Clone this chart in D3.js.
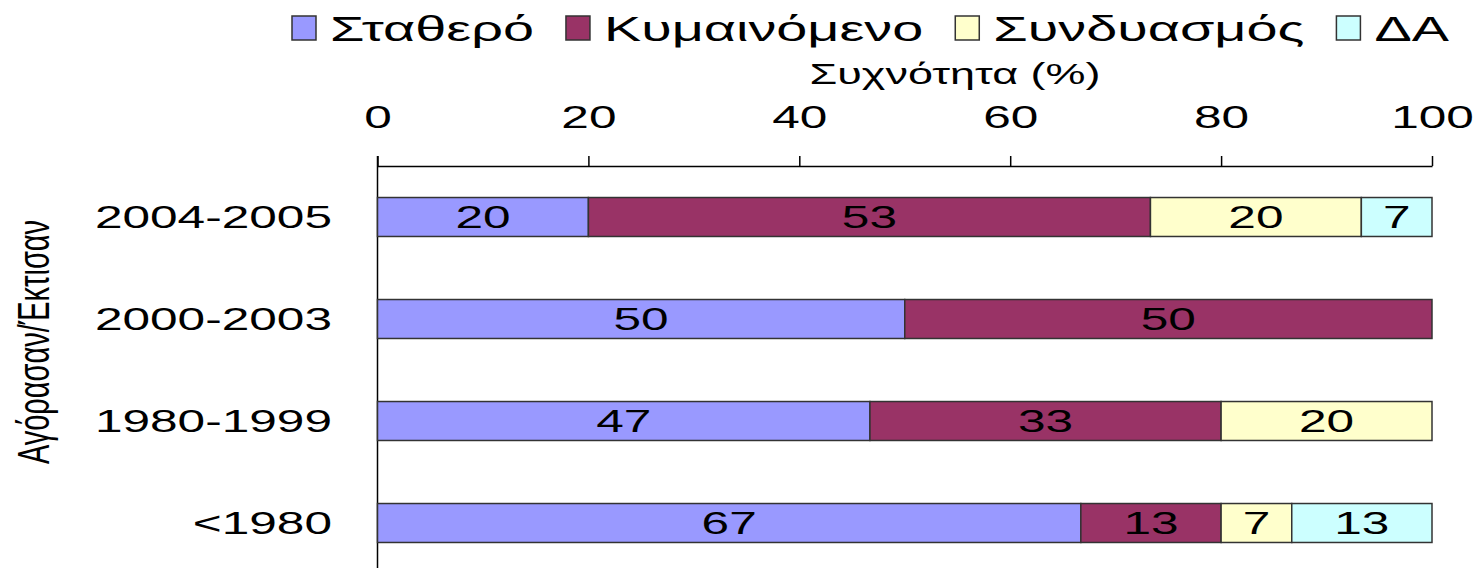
<!DOCTYPE html>
<html>
<head>
<meta charset="utf-8">
<script src="https://cdn.jsdelivr.net/npm/d3@7"></script>
<style>
  body { margin: 0; background: #fff; }
  text { font-family: "Liberation Sans", Arial, sans-serif; fill: #000; }
</style>
</head>
<body>
<div id="chart"></div>
<script>
// data (percent)
const periods = ["2004-2005", "2000-2003", "1980-1999", "<1980"];
const seriesNames = ["Σταθερό", "Κυμαινόμενο", "Συνδυασμός", "ΔΑ"];
const stathero = [20, 50, 46.7, 66.7];
const kymainomeno = [53.3, 50, 33.3, 13.3];
const syndyasmos = [20, 0, 20, 6.7];
const da = [6.7, 0, 0, 13.3];
const xTicks = [0, 20, 40, 60, 80, 100];

const colors = ["#9999FF", "#993366", "#FFFFCC", "#CCFFFF"];
const SX = 1.55; // glyphs in the original are stretched sideways

const width = 1477, height = 568;
const svg = d3.select("#chart").append("svg")
    .attr("width", width)
    .attr("height", height);

const rows = periods.map((p, i) => ({
    period: p,
    s0: stathero[i], s1: kymainomeno[i], s2: syndyasmos[i], s3: da[i]
}));
const stack = d3.stack().keys(["s0", "s1", "s2", "s3"])(rows);

const x = d3.scaleLinear().domain([0, 100]).range([377.5, 1432]);
const y = d3.scaleBand().domain(periods).range([166, 574])
    .paddingInner(0.618).paddingOuter(0.309);

// top axis
const axis = svg.append("g")
    .attr("transform", "translate(0,166)")
    .call(d3.axisTop(x).tickValues(xTicks).tickSize(10).tickSizeOuter(0).tickPadding(28));
axis.select(".domain").attr("stroke", "#000").attr("stroke-width", 1.5);
axis.selectAll(".tick line").attr("stroke", "#000").attr("stroke-width", 1.5);
axis.selectAll(".tick text")
    .attr("font-size", 32)
    .attr("font-family", "Liberation Sans, Arial, sans-serif")
    .attr("fill", "#000")
    .attr("transform", `scale(${SX},1)`);

svg.append("line")
    .attr("x1", x(0)).attr("x2", x(0))
    .attr("y1", 156).attr("y2", height)
    .attr("stroke", "#000").attr("stroke-width", 1.5);

// bars
const layers = svg.append("g").selectAll("g")
    .data(stack)
    .join("g")
    .attr("fill", (d, i) => colors[i]);

layers.selectAll("rect")
    .data(d => d.filter(s => s[1] - s[0] > 0))
    .join("rect")
    .attr("x", d => x(d[0]))
    .attr("y", d => y(d.data.period))
    .attr("width", d => x(d[1]) - x(d[0]))
    .attr("height", y.bandwidth())
    .attr("stroke", "#333")
    .attr("stroke-width", 1.5);

layers.selectAll("text")
    .data(d => d.filter(s => s[1] - s[0] > 0))
    .join("text")
    .attr("text-anchor", "middle")
    .attr("font-size", 32)
    .attr("transform", d => `translate(${(x(d[0]) + x(d[1])) / 2},${y(d.data.period) + y.bandwidth() / 2 + 11}) scale(${SX},1)`)
    .text(d => d3.format(".0f")(d[1] - d[0]));

// category labels
svg.append("g").selectAll("text")
    .data(periods)
    .join("text")
    .attr("text-anchor", "end")
    .attr("font-size", 32)
    .attr("transform", d => `translate(332,${y(d) + y.bandwidth() / 2 + 11}) scale(${SX},1)`)
    .text(d => d);

// y title
svg.append("text")
    .attr("text-anchor", "middle")
    .attr("font-size", 29)
    .attr("transform", `translate(49,342) scale(${SX},1) rotate(-90)`)
    .text("Αγόρασαν/Έκτισαν");

// x title
svg.append("text")
    .attr("text-anchor", "middle")
    .attr("font-size", 29)
    .attr("transform", `translate(955,84) scale(${SX},1)`)
    .text("Συχνότητα (%)");

// legend
const legend = svg.append("g");
let lx = 292;
seriesNames.forEach((name, i) => {
    legend.append("rect")
        .attr("x", lx).attr("y", 16)
        .attr("width", 24).attr("height", 24)
        .attr("fill", colors[i])
        .attr("stroke", "#333").attr("stroke-width", 1.5);
    const t = legend.append("text")
        .attr("font-size", 36)
        .attr("transform", `translate(${lx + 38},41) scale(${SX},1)`)
        .text(name);
    lx += 38 + t.node().getComputedTextLength() * SX + 32;
});
</script>
</body>
</html>
